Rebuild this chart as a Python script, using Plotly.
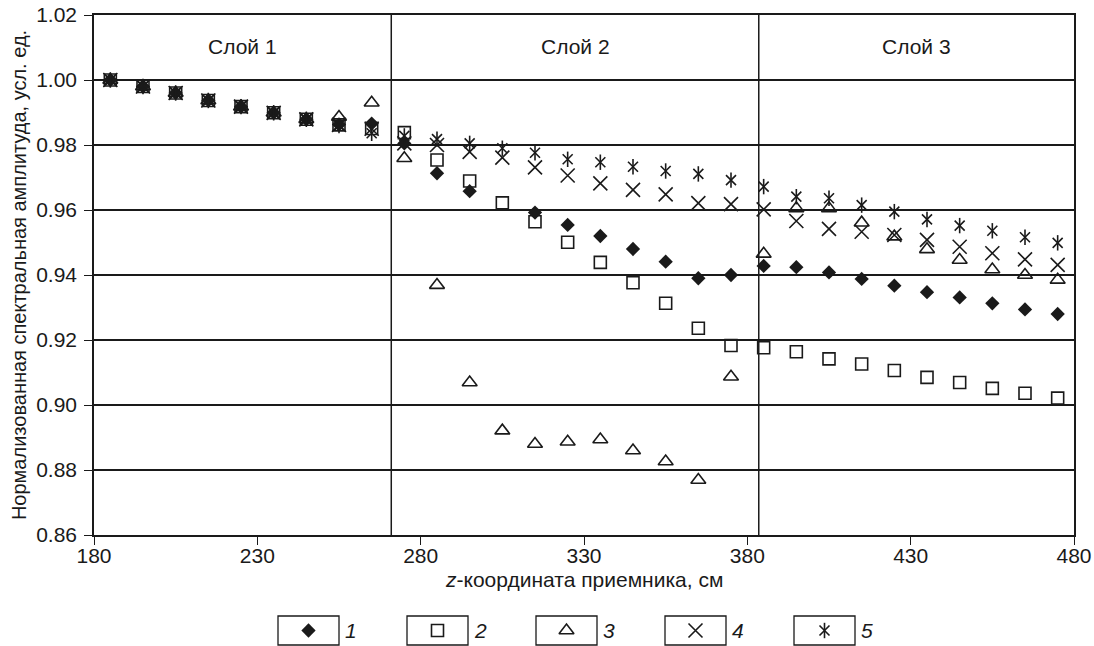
import plotly.graph_objects as go

# ---- data ----
z = [185, 195, 205, 215, 225, 235, 245, 255, 265,
     275, 285, 295, 305, 315, 325, 335, 345, 355, 365, 375,
     385, 395, 405, 415, 425, 435, 445, 455, 465, 475]

s1 = [1.000, 0.998, 0.996, 0.9937, 0.9918, 0.9899, 0.9879, 0.9863, 0.9866,
      0.9805, 0.9713, 0.9658, None, 0.9592, 0.9554, 0.9520, 0.9480, 0.9441, 0.9390, 0.9400,
      0.9428, 0.9424, 0.9408, 0.9388, 0.9367, 0.9347, 0.9331, 0.9313, 0.9294, 0.9280]
s2 = [1.000, 0.998, 0.996, 0.9937, 0.9918, 0.9899, 0.9879, 0.9862, 0.9851,
      0.9838, 0.9754, 0.9689, 0.9622, 0.9564, 0.9501, 0.9439, 0.9376, 0.9313, 0.9236, 0.9183,
      0.9176, 0.9164, 0.9142, 0.9126, 0.9106, 0.9085, 0.9069, 0.9051, 0.9036, 0.9021]
s3 = [1.000, 0.998, 0.996, 0.9937, 0.9918, 0.9899, 0.9879, 0.9886, 0.9930,
      0.9759, 0.9369, 0.9069, 0.8921, 0.8880, 0.8887, 0.8894, 0.8860, 0.8826, 0.8769, 0.9087,
      0.9465, 0.9605, 0.9605, 0.9561, 0.9518, 0.9479, 0.9446, 0.9417, 0.9400, 0.9385]
s4 = [1.000, 0.998, 0.996, 0.9937, 0.9918, 0.9899, 0.9879, 0.9862, 0.9850,
      0.9805, 0.9800, 0.9779, 0.9761, 0.9731, 0.9706, 0.9682, 0.9662, 0.9648, 0.9621, 0.9618,
      0.9602, 0.9566, 0.9542, 0.9533, 0.9523, 0.9508, 0.9487, 0.9467, 0.9448, 0.9431]
s5 = [1.000, 0.998, 0.996, 0.9937, 0.9918, 0.9899, 0.9879, 0.9860, 0.9836,
      0.9828, 0.9818, 0.9805, 0.9790, 0.9776, 0.9756, 0.9747, 0.9733, 0.9720, 0.9711, 0.9692,
      0.9672, 0.9641, 0.9636, 0.9615, 0.9595, 0.9571, 0.9552, 0.9536, 0.9516, 0.9499]

layer_bounds = [271, 383.5]
layer_names = ["Слой 1", "Слой 2", "Слой 3"]
layer_centers = [225.5, 327.25, 431.75]
legend_labels = ["1", "2", "3", "4", "5"]

x_ticks = [180, 230, 280, 330, 380, 430, 480]
y_ticks = [0.86, 0.88, 0.90, 0.92, 0.94, 0.96, 0.98, 1.00, 1.02]

# ---- figure geometry ----
W, H = 1094, 646
ML, MR, MT, MB = 94, 20, 15, 0
plot_h = H - MT - MB
y_bottom_px = 535
main_dom0 = (H - MB - y_bottom_px) / plot_h

FONT = "Liberation Sans, Arial, sans-serif"
BLACK = "#1a1a1a"

styles = [
    dict(symbol="diamond", size=11, color=BLACK, line=dict(width=0, color=BLACK)),
    dict(symbol="square-open", size=12, color=BLACK, line=dict(width=1.6, color=BLACK)),
    dict(symbol="triangle-up-open", size=13, color=BLACK, line=dict(width=1.6, color=BLACK)),
    dict(symbol="x-thin-open", size=14, color=BLACK, line=dict(width=1.6, color=BLACK)),
]
ast_x = dict(symbol="x-thin-open", size=10, color=BLACK, line=dict(width=1.6, color=BLACK))
ast_v = dict(symbol="line-ns-open", size=11, color=BLACK, line=dict(width=1.6, color=BLACK))

fig = go.Figure()
series = [s1, s2, s3, s4]
order = [1, 2, 3, 0]
for i in order:
    fig.add_trace(go.Scatter(x=z, y=series[i], mode="markers", marker=styles[i],
                             showlegend=False, hoverinfo="skip"))
fig.add_trace(go.Scatter(x=z, y=s5, mode="markers", marker=ast_x, showlegend=False, hoverinfo="skip"))
fig.add_trace(go.Scatter(x=z, y=s5, mode="markers", marker=ast_v, showlegend=False, hoverinfo="skip"))

# ---- custom legend on auxiliary axes ----
box_left_px = [278, 407, 536, 665, 794]
box_w = 61
box_top, box_bot = 616, 645
leg_dom1 = (H - MB - 600) / plot_h
def px_to_x2(px):
    return (px - ML) / (W - ML - MR)
def py_to_y2(py):
    return (H - MB - py) / (plot_h * leg_dom1)
def py_to_paper(py):
    return (H - MB - py) / plot_h

centers = [px_to_x2(b + box_w / 2) for b in box_left_px]
cy = py_to_y2((box_top + box_bot) / 2)
for k, st in enumerate(styles):
    fig.add_trace(go.Scatter(x=[centers[k]], y=[cy], mode="markers", marker=st,
                             xaxis="x2", yaxis="y2", showlegend=False, hoverinfo="skip"))
fig.add_trace(go.Scatter(x=[centers[4]], y=[cy], mode="markers", marker=ast_x,
                         xaxis="x2", yaxis="y2", showlegend=False, hoverinfo="skip"))
fig.add_trace(go.Scatter(x=[centers[4]], y=[cy], mode="markers", marker=ast_v,
                         xaxis="x2", yaxis="y2", showlegend=False, hoverinfo="skip"))

shapes = []
for b in box_left_px:
    shapes.append(dict(type="rect", xref="x2", yref="y2",
                       x0=px_to_x2(b), x1=px_to_x2(b + box_w),
                       y0=py_to_y2(box_bot), y1=py_to_y2(box_top),
                       line=dict(color=BLACK, width=1.3)))
for xb in layer_bounds:
    shapes.append(dict(type="line", xref="x", yref="y domain", x0=xb, x1=xb, y0=0, y1=1,
                       line=dict(color=BLACK, width=1.5)))

annotations = []
for name, xc in zip(layer_names, layer_centers):
    annotations.append(dict(x=xc, y=1.0102, xref="x", yref="y", text=name, showarrow=False,
                            font=dict(family=FONT, size=21, color=BLACK)))
for k, lab in enumerate(legend_labels):
    annotations.append(dict(x=px_to_x2(box_left_px[k] + box_w + 4), y=cy, xref="x2", yref="y2",
                            text="<i>" + lab + "</i>", showarrow=False, xanchor="left",
                            font=dict(family=FONT, size=21, color=BLACK)))
annotations.append(dict(x=0.5, y=py_to_paper(579), xref="paper", yref="paper",
                        xanchor="center", yanchor="middle",
                        text="<i>z</i>-координата приемника, см", showarrow=False,
                        font=dict(family=FONT, size=21, color=BLACK)))

fig.update_layout(
    width=W, height=H,
    margin=dict(l=ML, r=MR, t=MT, b=MB, autoexpand=False),
    paper_bgcolor="white", plot_bgcolor="white",
    font=dict(family=FONT, size=21, color=BLACK),
    shapes=shapes,
    annotations=annotations,
    xaxis=dict(range=[180, 480], tickvals=x_ticks, ticktext=[str(v) for v in x_ticks],
               showgrid=False, zeroline=False, showline=True, linecolor=BLACK, linewidth=1.5,
               mirror=True, ticks="outside", ticklen=8, tickcolor=BLACK, tickwidth=1.3,
               tickfont=dict(family=FONT, size=21, color=BLACK), ticklabelstandoff=-7,
               anchor="y", automargin=False),
    yaxis=dict(range=[0.86, 1.02], tickvals=y_ticks, ticktext=[f"{v:.2f}" for v in y_ticks],
               domain=[main_dom0, 1],
               showgrid=True, gridcolor=BLACK, gridwidth=1.6, zeroline=False,
               showline=True, linecolor=BLACK, linewidth=1.5, mirror=True,
               ticks="outside", ticklen=8, tickcolor=BLACK, tickwidth=1.3,
               tickfont=dict(family=FONT, size=21, color=BLACK), ticklabelstandoff=3,
               title=dict(text="Нормализованная спектральная амплитуда, усл. ед.",
                          font=dict(family=FONT, size=20, color=BLACK), standoff=4),
               anchor="x", automargin=False),
    xaxis2=dict(domain=[0, 1], range=[0, 1], visible=False, anchor="y2"),
    yaxis2=dict(domain=[0, leg_dom1], range=[0, 1], visible=False, anchor="x2"),
)

fig.write_html("out.html")
